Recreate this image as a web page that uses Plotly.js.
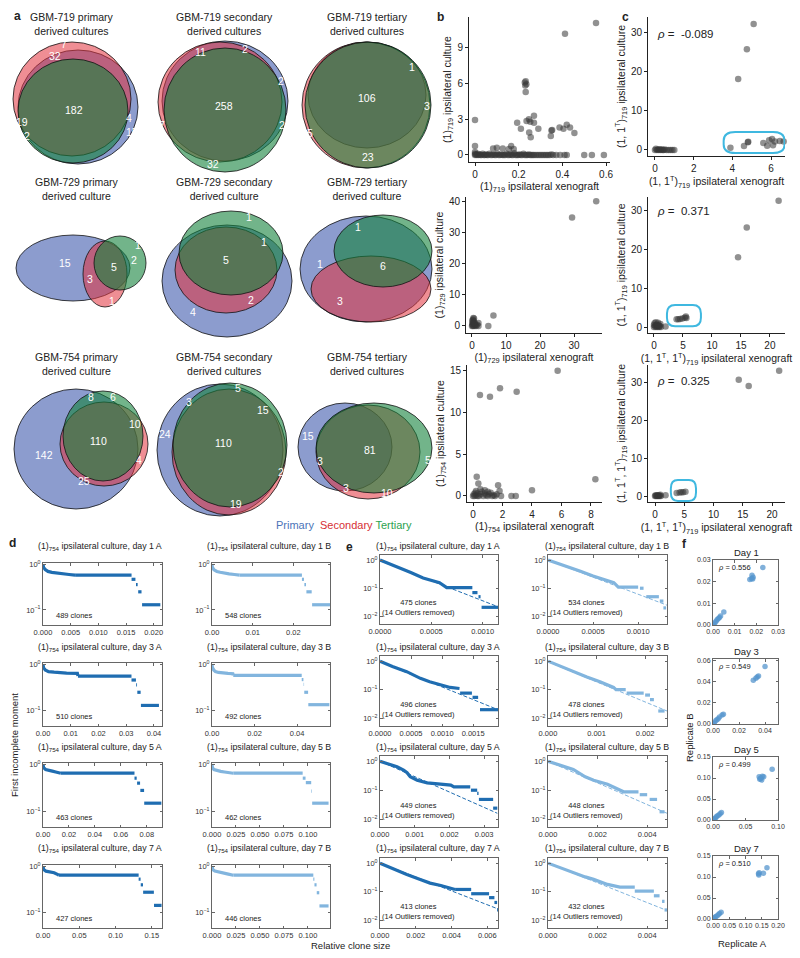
<!DOCTYPE html>
<html><head><meta charset="utf-8">
<script src="https://cdn.plot.ly/plotly-3.0.1.min.js"></script>
<style>html,body{margin:0;padding:0;background:#fff}#chart{width:800px;height:958px}</style>
</head><body><div id="chart"></div>
<script>
// ---------------- DATA ----------------
// Panel a: Venn counts
const v719p = ['7','32','182','19','2','4','15'];
const v719s = ['11','2','258','2','7','2','32'];
const v719t = ['106','1','3','5','23'];
const v729p = ['15','3','5','2','1','1'];
const v729s = ['1','1','5','2','4'];
const v729t = ['1','1','6','3'];
const v754p = ['8','6','10','110','142','25','4'];
const v754s = ['5','3','15','24','110','2','19'];
const v754t = ['15','3','81','3','10','5'];
const vennTitles = ['GBM-719 primary<br>derived cultures','GBM-719 secondary<br>derived cultures','GBM-719 tertiary<br>derived cultures',
  'GBM-729 primary<br>derived culture','GBM-729 secondary<br>derived culture','GBM-729 tertiary<br>derived culture',
  'GBM-754 primary<br>derived culture','GBM-754 secondary<br>derived cultures','GBM-754 tertiary<br>derived cultures'];

// Panel b scatter points [xenograft, culture]
const b1Pts = [[0.554,11.1],[0.412,10.2],[0.228,6.1],[0.232,6.2],[0.235,5.95],[0.230,5.85],[0.232,5.3],[0.270,3.3],[0.247,3.0],[0.236,2.85],[0.253,2.8],[0.193,2.7],[0.270,2.7],[0.210,2.2],[0.290,2.2],[0.248,1.9],[0.255,1.5],[0.350,2.05],[0.353,2.1],[0.347,1.6],[0.387,2.3],[0.405,2.2],[0.420,2.55],[0.435,2.3],[0.455,1.85],[0.0,2.95],[0.0,0.75],[0.083,0.55],[0.100,0.6],[0.127,0.55],[0.155,0.5],[0.165,0.75],[0.177,0.5],
 [0,0.25],[0,0.1],[0,0],[0.004,0.05],[0.008,0],[0.012,0.1],[0.016,0],[0.02,0.05],[0.025,0],[0.03,0],[0.035,0.1],[0.04,0],[0.045,0],[0.05,0.05],[0.055,0],[0.06,0],[0.066,0.1],[0.072,0],[0.078,0],[0.084,0.05],[0.09,0],[0.096,0],[0.102,0.1],[0.108,0],[0.114,0],[0.12,0.05],[0.126,0],[0.132,0],[0.138,0],[0.144,0.1],[0.15,0],[0.156,0],[0.162,0.05],[0.168,0],[0.174,0],[0.18,0.15],[0.186,0],[0.192,0],[0.198,0],[0.204,0.05],[0.21,0],[0.216,0],[0.222,0.1],[0.228,0],[0.234,0],[0.24,0],[0.246,0.05],[0.252,0],[0.258,0],[0.264,0],[0.27,0],[0.278,0],[0.286,0],[0.294,0],[0.302,0],[0.31,0],[0.318,0],[0.326,0],[0.334,0],[0.342,0],[0.35,0.05],[0.358,0],[0.372,0],[0.39,0],[0.41,0],[0.42,0],[0.5,0],[0.535,0],[0.59,0]];
const b2Pts = [[36.5,40.2],[29.4,35.0],[6.3,3.4],[4.8,0.0],[1.9,1.0],[1.9,0.0],[0.6,2.4],[0.4,2.6],[0.3,2.0],[0.5,1.6],[0.2,1.2],[0.8,1.0],[0.1,0.6],[0.6,0.5],[1.0,0.3],[1.2,0.0],[0.3,0.0],[0.0,0.0],[0.7,0.0],[1.5,0.4],[0.2,0.3],[0.9,0.6],[0.4,1.0],[0.1,1.8]];
const b3Pts = [[5.74,15.0],[0.47,12.1],[1.15,11.9],[1.83,12.9],[2.96,12.5],[8.3,2.0],[0.25,2.3],[0.36,1.5],[1.7,1.3],[1.8,0.6],[4.0,0.7],[2.6,0.0],[2.9,0.0],[0.1,0],[0.2,0.1],[0.3,0.3],[0.4,0],[0.5,0.2],[0.6,0.5],[0.7,0],[0.8,0.3],[0.9,0.1],[1.0,0],[1.1,0.2],[1.2,0.4],[1.3,0],[1.4,0.1],[1.5,0],[0.2,0.6],[0.5,0.8],[0.3,0],[0.15,0.4],[0.0,0.0],[0.05,0.2],[1.0,0.5],[0.8,0.7],[1.6,0.2],[1.9,0]];
// Panel c
const c1Pts = [[5.1,32.3],[4.75,25.8],[4.3,18.2],[3.9,0.6],[4.6,1.0],[4.8,2.0],[4.82,2.1],[5.6,1.8],[5.8,1.1],[5.9,2.5],[6.05,2.8],[6.1,1.2],[6.2,2.2],[6.45,2.3],[6.65,2.2],[0,0],[0.05,0.3],[0.1,0],[0.15,0.1],[0.2,0],[0.25,0.2],[0.3,0],[0.35,0.1],[0.4,0],[0.45,0],[0.5,0.1],[0.6,0],[0.7,0],[0.8,0],[0.9,0],[1.0,0]];
const c2Pts = [[21.5,32.6],[16.0,25.7],[14.5,18.0],[3.9,2.0],[4.2,2.0],[4.5,2.1],[4.9,2.2],[5.3,2.4],[5.5,2.7],[5.6,2.3],[2.0,0.1],[0,0],[0.1,1.0],[0.2,0.3],[0.3,0],[0.4,0.6],[0.5,0.2],[0.6,0],[0.7,1.1],[0.8,0.4],[0.9,0],[1.0,0.2],[1.1,0.8],[1.2,0],[0.0,0.5],[0.3,1.2],[0.6,0.5],[0.9,0.3]];
const c3Pts = [[21.2,33.0],[14.3,30.6],[16.0,29.0],[3.7,0.8],[4.2,0.9],[4.5,1.0],[4.8,1.0],[5.2,1.1],[1.8,0.2],[0,0],[0.1,0.2],[0.2,0],[0.3,0.1],[0.4,0],[0.5,0.2],[0.6,0],[0.7,0.1],[0.8,0],[0.9,0.3],[1.0,0]];
const rhoC = ['-0.089','0.371','0.325'];

// Panel d: first incomplete moment (head curve + steps [x0,x1,y])
const dLabels = ['day 1 A','day 1 B','day 3 A','day 3 B','day 5 A','day 5 B','day 7 A','day 7 B'];
const dClones = ['489','548','510','492','463','462','427','446'];
const dHeadX = [
 [0,0.0001,0.0004,0.0009,0.0016,0.0026,0.0036,0.0047,0.0058],
 [0,0.0001,0.0005,0.0012,0.002,0.003,0.0042,0.0055,0.0068],
 [0,0.0002,0.0008,0.002,0.004,0.0058,0.0085,0.0124,0.0126],
 [0,0.0002,0.0008,0.0016,0.003,0.005,0.0075,0.0098,0.010],
 [0,0.0005,0.002,0.0045,0.0072,0.0098,0.0124,0.0137],
 [0,0.0005,0.002,0.005,0.009,0.013,0.017,0.0222],
 [0,0.001,0.004,0.009,0.0153,0.0199,0.022],
 [0,0.001,0.003,0.007,0.012,0.017,0.0222]];
const dHeadY = [
 [1.0,0.86,0.77,0.70,0.67,0.64,0.62,0.60,0.58],
 [1.0,0.86,0.76,0.70,0.67,0.64,0.62,0.60,0.58],
 [1.0,0.85,0.76,0.70,0.68,0.66,0.65,0.64,0.56],
 [1.0,0.85,0.76,0.70,0.67,0.65,0.64,0.63,0.58],
 [1.0,0.85,0.78,0.74,0.72,0.69,0.67,0.65],
 [1.0,0.85,0.78,0.74,0.71,0.69,0.67,0.65],
 [1.0,0.85,0.79,0.76,0.73,0.67,0.645],
 [1.0,0.85,0.79,0.75,0.72,0.68,0.645]];
const dSteps = [
 [[0.0058,0.0160,0.58],[0.0160,0.0167,0.47],[0.0168,0.0171,0.36],[0.0172,0.0178,0.25],[0.0179,0.0212,0.13]],
 [[0.0068,0.0221,0.58],[0.0221,0.0226,0.47],[0.0227,0.0231,0.36],[0.0232,0.0245,0.25],[0.0246,0.0290,0.13]],
 [[0.0126,0.0319,0.56],[0.0319,0.0335,0.46],[0.0336,0.0339,0.36],[0.0340,0.0352,0.25],[0.0353,0.0418,0.13]],
 [[0.010,0.0422,0.58],[0.0422,0.0430,0.47],[0.0431,0.0433,0.37],[0.0434,0.0452,0.25],[0.0453,0.0552,0.135]],
 [[0.0137,0.0705,0.65],[0.0705,0.0722,0.51],[0.0725,0.0748,0.40],[0.0750,0.0779,0.28],[0.0780,0.0912,0.15]],
 [[0.0222,0.0945,0.65],[0.0946,0.0975,0.51],[0.0978,0.1034,0.41],[0.1036,0.1042,0.27],[0.1044,0.1215,0.15]],
 [[0.022,0.1318,0.645],[0.1318,0.1345,0.53],[0.1347,0.1378,0.40],[0.1380,0.1528,0.277],[0.1530,0.1634,0.144]],
 [[0.0222,0.1056,0.645],[0.1056,0.1067,0.53],[0.1068,0.1090,0.40],[0.1092,0.1118,0.27],[0.1120,0.1215,0.14]]];
const dRange = [0.0215,0.029,0.0429,0.0555,0.0917,0.123,0.164,0.123];
const dDtick = [0.005,0.01,0.01,0.02,0.02,0.025,0.05,0.025];
const dFmt = ['.3f','.2f','.2f','.2f','.2f','.3f','.2f','.3f'];

// Panel e: curves (null = gap between steps) and fitted lines
const eClones = ['475','534','496','478','449','448','413','432'];
const eX = [
 [0,0.0001,0.0002,0.0003,0.00042,0.0005,0.00058,0.00065,0.0009,null,0.0009,0.00095,null,0.00096,0.00098,null,0.00099,0.00115],
 [0,0.0001,0.0002,0.00036,0.0005,0.00062,0.00073,0.00078,0.001,null,0.00102,0.00106,null,0.00109,0.00123,null,0.00124,0.00128,null,0.00128,0.00131],
 [0,0.0002,0.00043,0.00065,0.0008,0.00097,0.00113,0.00128,null,0.00129,0.00148,null,0.00149,0.00158,null,0.00161,0.0019],
 [0,0.00025,0.00052,0.0008,0.00107,0.00135,0.0014,0.0016,null,0.00162,0.00197,null,0.002,0.0021,null,0.0021,0.00218,null,0.00227,0.0024],
 [0,0.00025,0.00049,0.00068,0.00078,0.00087,0.00107,0.00136,0.00175,0.00204,0.00213,0.0026,null,0.00262,0.0028,null,0.0028,0.00284,null,0.00285,0.00326,null,0.00326,0.00338],
 [0,0.0005,0.00102,0.0015,0.00184,0.0024,0.0029,0.00305,0.00365,null,0.0037,0.004,null,0.0041,0.0044,null,0.0045,0.0047],
 [0,0.0008,0.0015,0.00225,0.0028,0.0034,0.004,0.0042,null,0.0042,0.0051,null,0.0051,0.0061,null,0.0061,0.0064,null,0.0064,0.00655,null,0.00655,0.0066],
 [0,0.0005,0.00102,0.0015,0.00184,0.0024,0.0029,0.0035,null,0.0035,0.00427,null,0.00427,0.0045,null,0.0046,0.0047,null,0.0047,0.0048]];
const eY = [
 [1.0,0.72,0.5,0.36,0.23,0.19,0.157,0.105,0.105,null,0.07,0.07,null,0.05,0.05,null,0.021,0.021],
 [1.0,0.78,0.62,0.40,0.27,0.2,0.157,0.11,0.11,null,0.1,0.1,null,0.05,0.05,null,0.035,0.035,null,0.02,0.02],
 [1.0,0.65,0.43,0.25,0.19,0.15,0.12,0.11,null,0.076,0.076,null,0.054,0.054,null,0.02,0.02],
 [1.0,0.66,0.43,0.28,0.19,0.12,0.1,0.1,null,0.076,0.076,null,0.065,0.065,null,0.045,0.045,null,0.018,0.018],
 [1.0,0.8,0.64,0.49,0.40,0.29,0.22,0.18,0.16,0.15,0.13,0.13,null,0.1,0.1,null,0.078,0.078,null,0.048,0.048,null,0.024,0.024],
 [1.0,0.72,0.52,0.29,0.22,0.16,0.1,0.088,0.088,null,0.07,0.07,null,0.048,0.048,null,0.018,0.018],
 [1.0,0.6,0.40,0.27,0.2,0.166,0.13,0.12,null,0.12,0.12,null,0.085,0.085,null,0.062,0.062,null,0.042,0.042,null,0.023,0.023],
 [1.0,0.68,0.45,0.33,0.27,0.18,0.145,0.145,null,0.105,0.105,null,0.072,0.072,null,0.046,0.046,null,0.023,0.023]];
const eFitX = [[0,0.00115],[0,0.00132],[0,0.0019],[0,0.00245],[0,0.00338],[0,0.0048],[0,0.0066],[0,0.0048]];
const eFitY = [[0.95,0.022],[1.0,0.025],[0.95,0.02],[0.95,0.018],[1.0,0.016],[1.0,0.016],[1.0,0.025],[1.0,0.022]];
const eRange = [0.00115,0.00132,0.0019,0.00245,0.0034,0.0048,0.0066,0.0048];
const eDtick = [0.0005,0.0005,0.0005,0.001,0.001,0.002,0.002,0.002];
const eFmt = ['.4f','.4f','.4f','.3f','.3f','.3f','.3f','.3f'];

// Panel f: replicate A vs B
const fDays = ['Day 1','Day 3','Day 5','Day 7'];
const fRho = ['0.556','0.549','0.499','0.510'];
const fPts = [
 [[0.017,0.021],[0.0178,0.0215],[0.018,0.023],[0.0185,0.022],[0.0183,0.0212],[0.023,0.0265],[0.005,0.006],[0.0035,0.0042],[0.003,0.0035],[0.0025,0.003],[0.002,0.0025],[0.0015,0.0018],[0.001,0.0012],[0.0005,0.0005],[0,0]],
 [[0.031,0.041],[0.033,0.043],[0.034,0.044],[0.035,0.045],[0.040,0.054],[0.008,0.0092],[0.007,0.0085],[0.005,0.0066],[0.004,0.005],[0.003,0.004],[0.002,0.003],[0.001,0.001],[0,0]],
 [[0.071,0.103],[0.072,0.097],[0.074,0.100],[0.075,0.095],[0.076,0.104],[0.078,0.103],[0.073,0.099],[0.091,0.121],[0.013,0.018],[0.011,0.015],[0.009,0.012],[0.007,0.010],[0.005,0.008],[0.004,0.005],[0.002,0.003],[0.001,0.001],[0,0]],
 [[0.14,0.108],[0.141,0.105],[0.142,0.110],[0.155,0.109],[0.166,0.122],[0.025,0.016],[0.02,0.013],[0.017,0.011],[0.013,0.008],[0.009,0.006],[0.006,0.004],[0.003,0.002],[0,0]]];
const fXRange = [0.03,0.05,0.1,0.2];
const fYRange = [0.03,0.061,0.15,0.15];
const fXDtick = [0.01,0.02,0.05,0.05];
const fYDtick = [0.01,0.02,0.05,0.05];

// ---------------- LAYOUT HELPERS ----------------
const W = 800, H = 958;
const FONT = 'Liberation Sans, Arial, sans-serif';
const fx = p => p / W, fy = p => 1 - p / H;
const layout = {width:W, height:H, margin:{l:0,r:0,t:0,b:0}, paper_bgcolor:'#fff', plot_bgcolor:'rgba(0,0,0,0)',
  showlegend:false, font:{family:FONT, color:'#222'}, shapes:[], annotations:[]};
const traces = [];
let axN = 0;
function axes(xpx, ypx, xo, yo) {
  axN++;
  const s = axN === 1 ? '' : String(axN);
  layout['xaxis' + s] = Object.assign({domain:[fx(xpx[0]), fx(xpx[1])], anchor:'y' + s}, xo);
  layout['yaxis' + s] = Object.assign({domain:[fy(ypx[1]), fy(ypx[0])], anchor:'x' + s}, yo);
  return {xaxis:'x' + s, yaxis:'y' + s};
}
function note(text, px, py, size, opts) {
  layout.annotations.push(Object.assign({text:text, xref:'paper', yref:'paper', x:fx(px), y:fy(py), showarrow:false,
    font:{size:size, color:'#222', family:FONT}, xanchor:'center', yanchor:'middle'}, opts || {}));
}

// ---------------- PANEL a: Venn diagrams ----------------
const COL = {p:'rgba(45,75,165,0.55)', s:'rgba(225,50,60,0.55)', t:'rgba(20,130,60,0.6)'};
const vennGeom = [
 {t:[72,24], e:[[78,107,60,57],[72,99,59,57],[73,111,55,52]], l:[[64,44],[55,56],[74,110],[22,122],[27,136],[129,118],[132,132]], c:v719p},
 {t:[224,24], e:[[225,101,63,60],[220,102,62,60],[225,110,61,62]], l:[[200,52],[245,49],[224,106],[281,81],[162,125],[282,125],[213,164]], c:v719s},
 {t:[367,24], e:[[367,95,59,53],[366,105,64,63],[368,105,63,63]], l:[[367,98],[412,67],[427,106],[310,133],[368,157]], c:v719t},
 {t:[77,189], e:[[73,268,57,33],[105,274,22,33],[120,263,26,27]], l:[[65,263],[90,279],[114,267],[134,260],[138,245],[112,301]], c:v729p},
 {t:[224,189], e:[[227,281,65,56],[226,270,51,43],[231,253,52,42]], l:[[249,217],[264,242],[226,260],[251,300],[193,312]], c:v729s},
 {t:[367,189], e:[[366,269,66,53],[371,289,60,33],[383,251,49,36]], l:[[320,264],[358,227],[383,266],[340,301]], c:v729t},
 {t:[77,364], e:[[76,449,62,60],[104,444,44,42],[103,436,40,45]], l:[[91,397],[113,397],[135,424],[98,441],[44,455],[84,481],[139,460]], c:v754p},
 {t:[224,364], e:[[220,450,63,66],[229,452,57,63],[230,445,57,62]], l:[[238,388],[189,402],[263,410],[165,434],[223,443],[281,472],[236,504]], c:v754s},
 {t:[367,364], e:[[345,447,47,44],[368,452,52,47],[374,448,58,45]], l:[[308,436],[320,461],[370,450],[346,488],[387,493],[428,460]], c:v754t}];
const colOrder = [COL.p, COL.s, COL.t];
vennGeom.forEach((v, i) => {
  note(vennTitles[i], v.t[0], v.t[1], 10.5);
  v.e.forEach((e, k) => {
    layout.shapes.push({type:'circle', xref:'paper', yref:'paper', x0:fx(e[0]-e[2]), x1:fx(e[0]+e[2]), y0:fy(e[1]+e[3]), y1:fy(e[1]-e[3]),
      fillcolor:colOrder[k], line:{color:'#111', width:0.8}});
  });
  v.l.forEach((p, k) => note(v.c[k], p[0], p[1], 10.5, {font:{size:10.5, color:'#fff', family:FONT}}));
});
note('<span style="color:#4b74b8">Primary</span>  <span style="color:#d62f35">Secondary</span> <span style="color:#2ca24f">Tertiary</span>', 344, 525, 11);
note('<b>a</b>', 17, 16, 12);

// ---------------- PANELS b, c ----------------
function bcAxis(range, tickvals, title) {
  return {range:range, tickvals:tickvals, ticktext:tickvals.map(String), showline:true, linecolor:'#222', linewidth:1, mirror:false,
    ticks:'outside', ticklen:3, tickcolor:'#222', showgrid:false, zeroline:false, tickfont:{size:10, color:'#222'},
    title:{text:title, font:{size:10.5, color:'#222'}, standoff:3}};
}
const ptColor = 'rgba(55,55,55,0.55)';
function scatterBC(pts, ax) {
  traces.push({type:'scatter', mode:'markers', x:pts.map(p => p[0]), y:pts.map(p => p[1]), xaxis:ax.xaxis, yaxis:ax.yaxis,
    marker:{size:6.5, color:ptColor, line:{width:0}}, cliponaxis:false, hoverinfo:'skip'});
}
const cult = 'ipsilateral culture', xen = 'ipsilateral xenograft';
let ax;
ax = axes([469,610],[17,162], bcAxis([-0.0275,0.618],[0,0.2,0.4,0.6],'(1)<sub>719</sub> '+xen), bcAxis([-0.59,11.6],[0,3,6,9],'(1)<sub>719</sub> '+cult));
scatterBC(b1Pts, ax);
ax = axes([466,602],[197,333], bcAxis([-1.76,38.2],[0,10,20,30],'(1)<sub>729</sub> '+xen), bcAxis([-2.26,41.6],[0,10,20,30,40],'(1)<sub>729</sub> '+cult));
scatterBC(b2Pts, ax);
ax = axes([467,602],[365,502], bcAxis([-0.41,8.75],[0,2,4,6,8],'(1)<sub>754</sub> '+xen), bcAxis([-0.72,15.7],[0,5,10,15],'(1)<sub>754</sub> '+cult));
scatterBC(b3Pts, ax);
note('<b>b</b>', 440, 17, 12);

function rr(x0, x1, y0, y1, rx, ry) {
  return `M${x0+rx},${y0} L${x1-rx},${y0} Q${x1},${y0} ${x1},${y0+ry} L${x1},${y1-ry} Q${x1},${y1} ${x1-rx},${y1} L${x0+rx},${y1} Q${x0},${y1} ${x0},${y1-ry} L${x0},${y0+ry} Q${x0},${y0} ${x0+rx},${y0} Z`;
}
const cyan = '#3fb8e0';
ax = axes([648,785],[17,156], bcAxis([-0.36,6.72],[0,2,4,6],'(1, 1<sup>T</sup>)<sub>719</sub> '+xen), bcAxis([-1.54,34.1],[0,10,20,30],'(1, 1<sup>T</sup>)<sub>719</sub> '+cult));
scatterBC(c1Pts, ax);
layout.shapes.push({type:'path', xref:ax.xaxis, yref:ax.yaxis, path:rr(3.55,6.7,-0.8,4.6,0.6,2.2), line:{color:cyan, width:2}});
layout.annotations.push({text:'<i>ρ</i> =  '+rhoC[0], xref:ax.xaxis+' domain', yref:ax.yaxis+' domain', x:0.05, y:0.88, xanchor:'left', yanchor:'middle', showarrow:false, font:{size:11.5, family:FONT, color:'#222'}});
ax = axes([648,785],[197,333], bcAxis([-1.03,22.6],[0,5,10,15,20],'(1, 1<sup>T</sup>, 1<sup>T</sup>)<sub>719</sub> '+xen), bcAxis([-1.55,33.6],[0,10,20,30],'(1, 1<sup>T</sup>)<sub>719</sub> '+cult));
scatterBC(c2Pts, ax);
layout.shapes.push({type:'path', xref:ax.xaxis, yref:ax.yaxis, path:rr(2.24,8.1,0.2,5.7,1.4,2.2), line:{color:cyan, width:2}});
layout.annotations.push({text:'<i>ρ</i> =  '+rhoC[1], xref:ax.xaxis+' domain', yref:ax.yaxis+' domain', x:0.05, y:0.9, xanchor:'left', yanchor:'middle', showarrow:false, font:{size:11.5, family:FONT, color:'#222'}});
ax = axes([648,785],[365,502], bcAxis([-1.2,22.2],[0,5,10,15,20],'(1, 1<sup>T</sup>, 1<sup>T</sup>)<sub>719</sub> '+xen), bcAxis([-1.58,34.5],[0,10,20,30],'(1, 1<sup>T</sup>, 1<sup>T</sup>)<sub>719</sub> '+cult));
scatterBC(c3Pts, ax);
layout.shapes.push({type:'path', xref:ax.xaxis, yref:ax.yaxis, path:rr(2.7,7.0,-1.3,4.2,1.2,2.2), line:{color:cyan, width:2}});
layout.annotations.push({text:'<i>ρ</i> =  '+rhoC[2], xref:ax.xaxis+' domain', yref:ax.yaxis+' domain', x:0.05, y:0.88, xanchor:'left', yanchor:'middle', showarrow:false, font:{size:11.5, family:FONT, color:'#222'}});
note('<b>c</b>', 625, 17, 12);

// ---------------- PANELS d, e, f ----------------
const CA = '#1f6db1', CB = '#82b5de';
function frameAxis(range, dtick, fmt, fs) {
  return {range:range, tick0:0, dtick:dtick, tickformat:fmt, tickangle:0, showline:true, mirror:'allticks', linecolor:'#666', linewidth:1,
    ticks:'inside', ticklen:2.5, tickcolor:'#666', showgrid:false, zeroline:false, tickfont:{size:fs || 7.5, color:'#333'}};
}
function logAxis(range, vals, txt) {
  return {type:'log', range:range, tickmode:'array', tickvals:vals, ticktext:txt, showline:true, mirror:'allticks', linecolor:'#666', linewidth:1,
    ticks:'inside', ticklen:2.5, tickcolor:'#666', showgrid:false, zeroline:false, tickfont:{size:7.5, color:'#333'}};
}
const dRows = [[563,625],[663,726],[763,827],[865,928]];
const eRows = [[555,624],[656,726],[756,827],[858,928]];
const fRows = [[560,625],[659,724],[757,820],[856,919]];
const titleY = [546,647,747,848];
const dCols = [[43,162],[212,330]];
const eCols = [[380,498],[548,667]];
const subTitle = lab => '(1)<sub>754</sub> ipsilateral culture, ' + lab;

for (let i = 0; i < 8; i++) {
  const r = Math.floor(i / 2), c = i % 2, col = c === 0 ? CA : CB;
  // d
  let a = axes(dCols[c], dRows[r], frameAxis([0, dRange[i]], dDtick[i], dFmt[i]), logAxis([-1.33, 0.03], [1, 0.1], ['10<sup>0</sup>', '10<sup>−1</sup>']));
  const xs = dHeadX[i].slice(), ys = dHeadY[i].slice();
  dSteps[i].forEach(s => { xs.push(null, s[0], s[1]); ys.push(null, s[2], s[2]); });
  traces.push({type:'scatter', mode:'lines', x:xs, y:ys, xaxis:a.xaxis, yaxis:a.yaxis, line:{color:col, width:3.2}, connectgaps:false, hoverinfo:'skip'});
  note(subTitle(dLabels[i]), (dCols[c][0] + dCols[c][1]) / 2 - 2 + (c === 0 ? -1 : 0), titleY[r], 8.8);
  note(dClones[i] + ' clones', dCols[c][0] + 11, dRows[r][1] - 10, 7.5, {xanchor:'left'});
  // e
  a = axes(eCols[c], eRows[r], frameAxis([0, eRange[i]], eDtick[i], eFmt[i]), logAxis([-2.27, 0.18], [1, 0.1, 0.01], ['10<sup>0</sup>', '10<sup>−1</sup>', '10<sup>−2</sup>']));
  traces.push({type:'scatter', mode:'lines', x:eFitX[i], y:eFitY[i], xaxis:a.xaxis, yaxis:a.yaxis, line:{color:col, width:1, dash:'4px,2px'}, hoverinfo:'skip'});
  traces.push({type:'scatter', mode:'lines', x:eX[i], y:eY[i], xaxis:a.xaxis, yaxis:a.yaxis, line:{color:col, width:3.2}, connectgaps:false, hoverinfo:'skip'});
  note(subTitle(dLabels[i]), (eCols[c][0] + eCols[c][1]) / 2 - 1, titleY[r], 8.8);
  note(eClones[i] + ' clones<br>(14 Outliers removed)', eCols[c][0] + 38, eRows[r][1] - 17, 7.5);
}
for (let k = 0; k < 4; k++) {
  const a = axes([713,778], fRows[k], frameAxis([0, fXRange[k]], fXDtick[k], '.2f', 7), frameAxis([0, fYRange[k]], fYDtick[k], '.2f', 7));
  const p = fPts[k];
  traces.push({type:'scatter', mode:'markers', x:p.map(q => q[0]), y:p.map(q => q[1]), xaxis:a.xaxis, yaxis:a.yaxis,
    marker:{size:5.5, color:'rgba(85,150,205,0.75)', line:{width:0}}, hoverinfo:'skip'});
  note(fDays[k], 746, fRows[k][0] - 8, 9.5);
  note('<i>ρ</i> = ' + fRho[k], 716, fRows[k][0] + 7, 7.5, {xanchor:'left'});
}
note('<b>d</b>', 12, 543, 12);
note('<b>e</b>', 349, 547, 12);
note('<b>f</b>', 684, 544, 12);
note('First incomplete moment', 14, 745, 9.5, {textangle:-90});
note('Relative clone size', 350, 945, 9.5);
note('Replicate A', 742, 943, 9.5);
note('Replicate B', 689, 738, 9.5, {textangle:-90});

Plotly.newPlot('chart', traces, layout, {staticPlot:true, displayModeBar:false});
</script></body></html>
